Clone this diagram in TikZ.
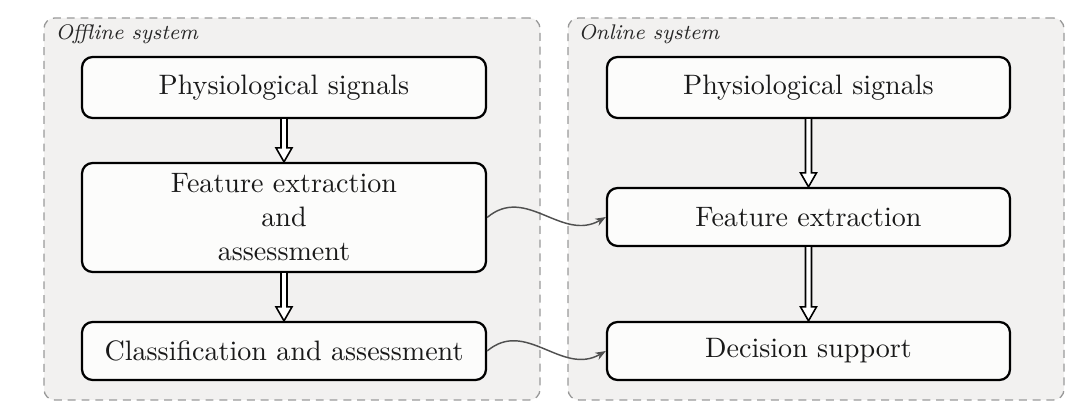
\documentclass[tikz,border=0pt]{standalone}
\usetikzlibrary{fit,calc,arrows.meta}
\definecolor{contfill}{HTML}{F2F1F0}
\definecolor{contdraw}{HTML}{9A9A9A}
\definecolor{boxfill}{HTML}{FCFCFB}
\definecolor{linkcol}{HTML}{505050}
\tikzset{
  container/.style={draw=contdraw, fill=contfill, dashed, dash pattern=on 3pt off 2.2pt, line width=0.5pt, rounded corners=4pt, inner sep=0pt},
  stagebox/.style={draw=black, fill=boxfill, line width=0.85pt, rounded corners=4pt, inner sep=0pt},
  stagetext/.style={align=center, font=\fontsize{10.6pt}{12.8pt}\selectfont, text=black!90},
  sysname/.style={anchor=base west, font=\footnotesize\itshape, text=black!85, inner sep=0pt},
  link/.style={draw=linkcol, line width=0.55pt, -{Stealth[length=4pt,width=3pt]}},
  hollow/.style={draw=black, line width=0.6pt, fill=white, line join=miter},
}
\newcommand{\hollowarrow}[2]{%
  \path (#1.south) coordinate (hs) (#2.north) coordinate (he);
  \draw[hollow] ($(hs)+(-3,0)$) -- ($(he)+(-3,-14)$) -- ($(he)+(-8,-14)$) -- (he) -- ($(he)+(8,-14)$) -- ($(he)+(3,-14)$) -- ($(hs)+(3,0)$);
}
\begin{document}
\begin{tikzpicture}[x=0.3774pt, y=-0.3774pt]
\useasboundingbox (0,0) rectangle (1088,415);
% containers
\node[container, fit={(44,18) (540,400)}] (offc) {};
\node[container, fit={(568,18) (1064,400)}] (onc) {};
\node[sysname] (offl) at (55,40) {Offline system};
\node[sysname] (onl) at (578,40) {Online system};
% left boxes
\node[stagebox, fit={(82,57) (486,118)}] (ps1) {};
\node[stagetext] (ps1t) at (ps1.center) {Physiological signals};
\node[stagebox, fit={(82,163) (486,272)}] (fe1) {};
\node[stagetext] (fe1t) at (fe1.center) {Feature extraction\\and\\assessment};
\node[stagebox, fit={(82,322) (486,380)}] (cl1) {};
\node[stagetext] (cl1t) at (cl1.center) {Classification and assessment};
% right boxes
\node[stagebox, fit={(607,57) (1010,118)}] (ps2) {};
\node[stagetext] (ps2t) at (ps2.center) {Physiological signals};
\node[stagebox, fit={(607,188) (1010,246)}] (fe2) {};
\node[stagetext] (fe2t) at (fe2.center) {Feature extraction};
\node[stagebox, fit={(607,322) (1010,380)}] (ds2) {};
\node[stagetext] (ds2t) at (ds2.center) {Decision support};
% hollow arrows
\hollowarrow{ps1}{fe1}
\hollowarrow{fe1}{cl1}
\hollowarrow{ps2}{fe2}
\hollowarrow{fe2}{ds2}
% links
\draw[link] (fe1.east) to[out=40,in=210,looseness=1.1] (fe2.west);
\draw[link] (cl1.east) to[out=40,in=210,looseness=1.1] (ds2.west);
\end{tikzpicture}
\end{document}
